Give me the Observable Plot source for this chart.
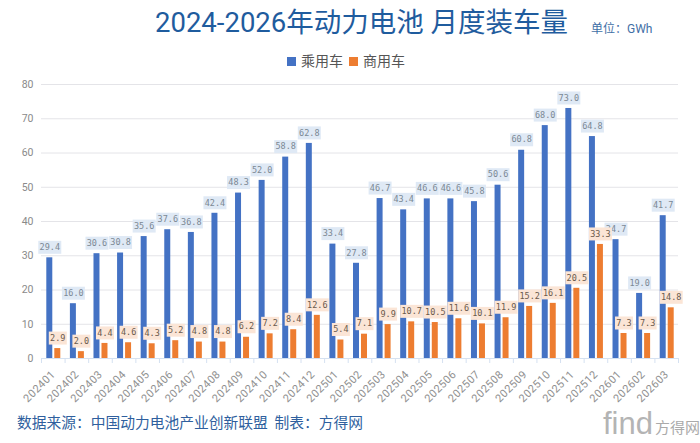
<!DOCTYPE html>
<html>
<head>
<meta charset="utf-8">
<script src="https://cdn.jsdelivr.net/npm/d3@7"></script>
<script src="https://cdn.jsdelivr.net/npm/@observablehq/plot@0.6"></script>
<style>
html,body{margin:0;padding:0;background:#fff;width:700px;height:443px;overflow:hidden}
#wrap{position:relative;width:700px;height:443px;font-family:Roboto,"Noto Sans CJK SC","Noto Sans",sans-serif}
.abs{position:absolute;white-space:pre;line-height:1}
.sw{position:absolute;width:9px;height:9px}
svg g[aria-label="x-axis tick label"] text{letter-spacing:.4px}
</style>
</head>
<body>
<div id="wrap"></div>
<script>
const months = ["202401","202402","202403","202404","202405","202406","202407","202408","202409","202410","202411","202412","202501","202502","202503","202504","202505","202506","202507","202508","202509","202510","202511","202512","202601","202602","202603"];
const passenger = [29.4,16.0,30.6,30.8,35.6,37.6,36.8,42.4,48.3,52.0,58.8,62.8,33.4,27.8,46.7,43.4,46.6,46.6,45.8,50.6,60.8,68.0,73.0,64.8,34.7,19.0,41.7];
const commercial = [2.9,2.0,4.4,4.6,4.3,5.2,4.8,4.8,6.2,7.2,8.4,12.6,5.4,7.1,9.9,10.7,10.5,11.6,10.1,11.9,15.2,16.1,20.5,33.3,7.3,7.3,14.8];
const yTicks = [0,10,20,30,40,50,60,70,80];
const titleText = "2024-2026年动力电池 月度装车量";
const unitText = "单位：GWh";
const seriesNames = ["乘用车","商用车"];
const sourceText = "数据来源：中国动力电池产业创新联盟 制表：方得网";

const BLUE="#4472c4", ORANGE="#ed7d31", BW=637/27;
const rows = (vals)=>months.map((m,i)=>({m,v:vals[i],t:vals[i].toFixed(1)}));
const pRows = rows(passenger), cRows = rows(commercial);
const box = (w,h)=>({draw(c){c.rect(-w/2,-h/2,w,h);c.closePath();}});
const labels = (data,dx,bg,ink)=>[
  Plot.dot(data.filter(d=>d.t.length===3),{x:"m",y:"v",dx,dy:-10.5,r:1,symbol:box(18,13),fill:bg,stroke:"none"}),
  Plot.dot(data.filter(d=>d.t.length>3),{x:"m",y:"v",dx,dy:-10.5,r:1,symbol:box(23,13),fill:bg,stroke:"none"}),
  Plot.text(data,{x:"m",y:"v",text:"t",dx,dy:-10.5,fill:ink,fontSize:8.5,fontFamily:"DejaVu Sans Mono",lineAnchor:"middle",textAnchor:"middle"})
];

const chart = Plot.plot({
  width:700,height:443,
  marginLeft:41,marginRight:22,marginTop:84,marginBottom:85,
  style:{background:"transparent",fontFamily:"Roboto,sans-serif",overflow:"visible"},
  x:{type:"band",domain:months,padding:0,round:false,label:null},
  y:{domain:[0,80],label:null},
  marks:[
    Plot.gridY(yTicks,{stroke:"#e4e4e8",strokeOpacity:1,strokeWidth:1}),
    Plot.axisY(yTicks,{tickSize:0,tickPadding:8,fill:"#8a8a8a",fontSize:10.5,label:null}),
    Plot.ruleY([0],{stroke:"#d5e1f1",strokeWidth:1}),
    Plot.axisX({tickSize:5,dx:-BW/2,text:null,stroke:"#d5e1f1",label:null}),
    Plot.axisX({ticks:[months[months.length-1]],tickSize:5,dx:BW/2,text:null,stroke:"#d5e1f1",label:null}),
    Plot.axisX({tickSize:0,tickPadding:14,tickRotate:-45,fill:"#909090",fontSize:11,label:null}),
    Plot.barY(pRows,{x:"m",y:"v",fill:BLUE,insetLeft:5.3,insetRight:12.3}),
    Plot.barY(cRows,{x:"m",y:"v",fill:ORANGE,insetLeft:13.3,insetRight:4.3}),
    ...labels(pRows,-3.5,"#dfe9f5","#7b8894"),
    ...labels(cRows,4.5,"#fbe5d6","#6a5a4c")
  ]
});
chart.style.position="absolute";chart.style.left="0";chart.style.top="0";
const wrap=document.getElementById("wrap");
wrap.appendChild(chart);
function add(text,css){const d=document.createElement("div");d.className="abs";d.textContent=text;d.style.cssText+=css;wrap.appendChild(d);return d;}
add(titleText,"left:155px;top:9px;font-size:27.5px;color:#1f5c9e;");
add(unitText,"left:591px;top:23px;font-size:12px;color:#3f6fa6;");
const sw=(x,c)=>{const s=document.createElement("div");s.className="sw";s.style.left=x+"px";s.style.top="57px";s.style.background=c;wrap.appendChild(s);};
sw(287,BLUE);add(seriesNames[0],"left:301px;top:54px;font-size:14px;color:#555;");
sw(349,ORANGE);add(seriesNames[1],"left:363px;top:54px;font-size:14px;color:#555;");
add(sourceText,"left:17px;top:416px;font-size:14.75px;color:#2f5f9e;word-spacing:3px;");
add("find","left:603px;top:408px;font-size:31px;color:#b4b4b4;font-family:'Liberation Sans',sans-serif;");
add("方得网","left:655px;top:421px;font-size:15px;color:#aaa;");
</script>
</body>
</html>
